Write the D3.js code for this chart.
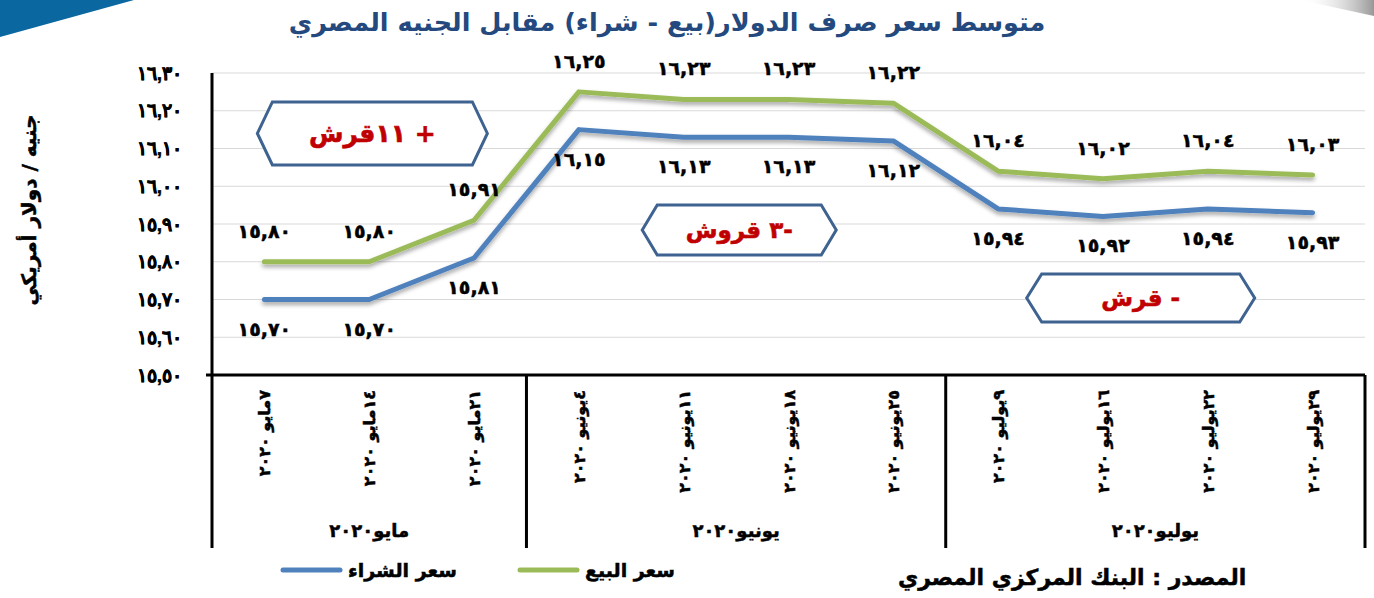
<!DOCTYPE html>
<html>
<head>
<meta charset="utf-8">
<script src="https://cdn.jsdelivr.net/npm/d3@7"></script>
<style>
    body { margin: 0; background: #ffffff; }
    svg { display: block; font-family: "DejaVu Sans", sans-serif; }
    .heavy { stroke: #000; stroke-width: 0.5px; }
</style>
</head>
<body>
<svg id="drawing_region"></svg>
<script>
// weekly dates (x axis)
const categories = [
    "٧مايو ٢٠٢٠", "١٤مايو ٢٠٢٠", "٢١مايو ٢٠٢٠",
    "٤يونيو ٢٠٢٠", "١١يونيو ٢٠٢٠", "١٨يونيو ٢٠٢٠", "٢٥يونيو ٢٠٢٠",
    "٩يوليو ٢٠٢٠", "١٦يوليو ٢٠٢٠", "٢٢يوليو ٢٠٢٠", "٢٩يوليو ٢٠٢٠"
];
const months = ["مايو٢٠٢٠", "يونيو٢٠٢٠", "يوليو٢٠٢٠"];
const month_sizes = [3, 4, 4];

// sell / buy rates
const sell = [15.80, 15.80, 15.91, 16.25, 16.23, 16.23, 16.22, 16.04, 16.02, 16.04, 16.03];
const buy = [15.70, 15.70, 15.81, 16.15, 16.13, 16.13, 16.12, 15.94, 15.92, 15.94, 15.93];

const y_ticks = [15.5, 15.6, 15.7, 15.8, 15.9, 16.0, 16.1, 16.2, 16.3];

const series_names = ["سعر الشراء", "سعر البيع"];
const notes = ["+ ١١قرش", "-٣ قروش", "- قرش"];

const title = "متوسط سعر صرف الدولار(بيع - شراء) مقابل الجنيه المصري";
const y_title = "جنيه / دولار أمريكي";
const source = "المصدر : البنك المركزي المصري";

const arabic = s => s.replace(/[0-9]/g, c => "٠١٢٣٤٥٦٧٨٩"[+c]).replace(".", ",");
const fmt = v => arabic(d3.format(".2f")(v));

class LineChart {
    constructor(config) {
        this.config = config;
        this.init();
    }

    init() {
        let self = this;
        let c = self.config;

        self.svg = d3.select(c.parent)
            .attr('width', c.width)
            .attr('height', c.height);

        let defs = self.svg.append('defs');
        defs.append('filter').attr('id', 'shadow')
            .attr('x', '-5%').attr('y', '-20%').attr('width', '110%').attr('height', '150%')
            .append('feDropShadow')
            .attr('dx', 0).attr('dy', 3).attr('stdDeviation', 2)
            .attr('flood-color', '#000').attr('flood-opacity', 0.35);

        let grad = defs.append('linearGradient').attr('id', 'corner')
            .attr('x1', 0).attr('y1', 0).attr('x2', 1).attr('y2', 0);
        grad.append('stop').attr('offset', '0%').attr('stop-color', '#ffffff').attr('stop-opacity', 0);
        grad.append('stop').attr('offset', '100%').attr('stop-color', '#8c8c8c').attr('stop-opacity', 0.9);

        self.xscale = d3.scaleBand()
            .domain(categories)
            .range([c.left, c.right])
            .padding(0);

        self.yscale = d3.scaleLinear()
            .domain([15.5, 16.3])
            .range([c.bottom, c.top]);

        let bw = self.xscale.bandwidth();
        self.px = i => self.xscale(categories[0]) + bw / 2 + i * bw;
    }

    render() {
        let self = this;
        let c = self.config;

        // decorations
        self.svg.append('polygon')
            .attr('points', '0,0 134,0 0,37')
            .attr('fill', '#0b67a0');
        self.svg.append('polygon')
            .attr('points', '1300,0 1374,0 1374,16')
            .attr('fill', 'url(#corner)');

        // title
        self.svg.append('text')
            .attr('x', 667).attr('y', 31)
            .attr('text-anchor', 'middle')
            .attr('font-size', '25.5px')
            .attr('font-weight', 'bold')
            .attr('fill', '#23497e')
            .text(title);

        // grid
        self.svg.append('g').selectAll('line').data(y_ticks).join('line')
            .attr('x1', c.left).attr('x2', c.right)
            .attr('y1', d => self.yscale(d)).attr('y2', d => self.yscale(d))
            .attr('stroke', '#d9d9d9').attr('stroke-width', 1);

        // y axis
        let yaxis = d3.axisLeft(self.yscale)
            .tickValues(y_ticks)
            .tickSize(0)
            .tickPadding(30)
            .tickFormat(fmt);
        let yg = self.svg.append('g')
            .attr('transform', `translate(${c.left}, 0)`)
            .call(yaxis);
        yg.select('.domain').remove();
        yg.selectAll('text')
            .attr('class', 'heavy')
            .attr('font-size', '19px')
            .attr('font-weight', 'bold')
            .attr('fill', '#000');

        self.svg.append('text')
            .attr('class', 'heavy')
            .attr('transform', 'translate(36, 210) rotate(-90)')
            .attr('text-anchor', 'middle')
            .attr('font-size', '20px')
            .attr('font-weight', 'bold')
            .text(y_title);

        // axis frame
        let frame = self.svg.append('g').attr('stroke', '#000').attr('stroke-width', 3);
        frame.append('line')
            .attr('x1', c.left).attr('x2', c.left)
            .attr('y1', c.top).attr('y2', c.axis_bottom);
        frame.append('line')
            .attr('x1', c.left - 6).attr('x2', c.right)
            .attr('y1', c.bottom).attr('y2', c.bottom);

        let bounds = [0];
        month_sizes.forEach(n => bounds.push(bounds[bounds.length - 1] + n));
        let edge = i => i < categories.length ? self.xscale(categories[i]) : c.right;
        frame.selectAll('line.sep').data(bounds.slice(1)).join('line')
            .attr('class', 'sep')
            .attr('x1', d => edge(d)).attr('x2', d => edge(d))
            .attr('y1', c.bottom).attr('y2', c.axis_bottom);

        // category labels
        self.svg.append('g').selectAll('text').data(categories).join('text')
            .attr('class', 'heavy')
            .attr('transform', (d, i) => `translate(${self.px(i) + 6}, ${c.bottom + 15}) rotate(-90)`)
            .attr('text-anchor', 'end')
            .attr('font-size', '16px')
            .attr('font-weight', 'bold')
            .text(d => d);

        self.svg.append('g').selectAll('text').data(months).join('text')
            .attr('class', 'heavy')
            .attr('x', (d, i) => (edge(bounds[i]) + edge(bounds[i + 1])) / 2)
            .attr('y', c.bottom + 162)
            .attr('text-anchor', 'middle')
            .attr('font-size', '18px')
            .attr('font-weight', 'bold')
            .text(d => d);

        // lines
        let line = d3.line()
            .x((d, i) => self.px(i))
            .y(d => self.yscale(d));

        let series = [
            { values: sell, color: '#9bbb59', dy: -24 },
            { values: buy, color: '#4f81bd', dy: 36 }
        ];

        series.forEach(s => {
            self.svg.append('path')
                .datum(s.values)
                .attr('d', line)
                .attr('fill', 'none')
                .attr('stroke', s.color)
                .attr('stroke-width', 5)
                .attr('stroke-linecap', 'round')
                .attr('stroke-linejoin', 'round')
                .attr('filter', 'url(#shadow)');

            self.svg.append('g').selectAll('text').data(s.values).join('text')
                .attr('class', 'heavy')
                .attr('x', (d, i) => self.px(i))
                .attr('y', d => self.yscale(d) + s.dy)
                .attr('text-anchor', 'middle')
                .attr('font-size', '19px')
                .attr('font-weight', 'bold')
                .text(fmt);
        });

        // callouts
        let boxes = [
            { text: notes[0], i: 1.03, v: 16.14, w: 230, h: 63, size: 25 },
            { text: notes[1], i: 4.53, v: 15.884, w: 194, h: 50, size: 23 },
            { text: notes[2], i: 8.36, v: 15.704, w: 228, h: 48, size: 23 }
        ];
        boxes.forEach(b => {
            let cx = self.px(b.i), cy = self.yscale(b.v);
            let hw = b.w / 2, hh = b.h / 2, k = 15;
            let pts = [[cx - hw, cy], [cx - hw + k, cy - hh], [cx + hw - k, cy - hh],
                       [cx + hw, cy], [cx + hw - k, cy + hh], [cx - hw + k, cy + hh]];
            self.svg.append('polygon')
                .attr('points', pts.map(p => p.join(',')).join(' '))
                .attr('fill', '#fff')
                .attr('stroke', '#3e6391')
                .attr('stroke-width', 3);
            self.svg.append('text')
                .attr('x', cx).attr('y', cy + b.size * 0.35)
                .attr('text-anchor', 'middle')
                .attr('direction', 'rtl')
                .attr('font-size', b.size + 'px')
                .attr('font-weight', 'bold')
                .attr('fill', '#c00000')
                .attr('stroke', '#c00000')
                .attr('stroke-width', 0.6)
                .text(b.text);
        });

        // legend
        let legend = [
            { name: series_names[0], color: '#4f81bd', x: 283 },
            { name: series_names[1], color: '#9bbb59', x: 520 }
        ];
        legend.forEach(l => {
            self.svg.append('line')
                .attr('x1', l.x).attr('x2', l.x + 57)
                .attr('y1', 570).attr('y2', 570)
                .attr('stroke', l.color).attr('stroke-width', 5)
                .attr('stroke-linecap', 'round');
            self.svg.append('text')
                .attr('class', 'heavy')
                .attr('x', l.x + 65).attr('y', 577)
                .attr('font-size', '19px')
                .attr('font-weight', 'bold')
                .text(l.name);
        });

        self.svg.append('text')
            .attr('class', 'heavy')
            .attr('x', 898).attr('y', 585)
            .attr('font-size', '22px')
            .attr('font-weight', 'bold')
            .text(source);
    }
}

const chart = new LineChart({
    parent: '#drawing_region',
    width: 1374,
    height: 598,
    left: 212,
    right: 1365,
    top: 73,
    bottom: 375,
    axis_bottom: 548
});
chart.render();
</script>
</body>
</html>
